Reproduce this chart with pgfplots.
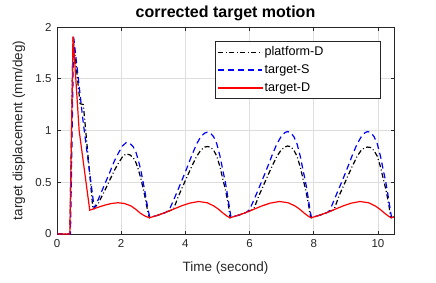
\documentclass[border=0pt]{standalone}
\usepackage{pgfplots}
\pgfplotsset{compat=1.18}
\usepackage{fontspec}
\setmainfont{Liberation Sans}
\definecolor{axgray}{gray}{0.15}
\definecolor{gridgray}{gray}{0.87}
\definecolor{mred}{rgb}{1,0,0}
\begin{document}
\begin{tikzpicture}[x=1pt,y=1pt]
\useasboundingbox (0,0) rectangle (436,282);
\begin{axis}[
  at={(57pt,48pt)}, anchor=south west,
  scale only axis, width=337pt, height=207pt,
  xmin=0, xmax=10.5, ymin=0, ymax=2,
  xtick={0,2,4,6,8,10}, ytick={0,0.5,1,1.5,2},
  yticklabels={0,0.5,1,1.5,2},
  grid=major, major grid style={gridgray, line width=0.6pt},
  axis line style={axgray, line width=0.6pt},
  tick style={axgray, line width=0.6pt},
  tick align=inside, major tick length=3.5pt,
  xtick pos=both, ytick pos=both,
  /pgf/number format/assume math mode=true,
  tick label style={font=\fontsize{11.5}{13}\selectfont, text=axgray},
  xticklabel style={yshift=-2pt},
  yticklabel style={xshift=-2pt},
  xlabel={Time (second)},
  ylabel={target displacement (mm/deg)},
  label style={font=\fontsize{13.5}{16}\selectfont, text=axgray},
  xlabel style={at={(axis description cs:0.5,0)}, anchor=center, yshift=-34pt},
  ylabel style={at={(axis description cs:0,0.5)}, anchor=center, yshift=38pt},
  every axis title shift=0pt,
  title={corrected target motion},
  title style={font=\fontsize{16}{18}\selectfont\bfseries, at={(axis description cs:0.5,1)}, anchor=center, yshift=13.5pt},
  legend style={at={(axis description cs:0.9614,0.9324)}, anchor=north east,
    font=\fontsize{12.6}{15}\selectfont, draw=axgray, line width=0.6pt,
    inner xsep=2pt, inner ysep=3.5pt, row sep=3.5pt},
  legend cell align=left,
]
\addplot[forget plot, color=black, line width=1.2pt, dash pattern=on 5pt off 2.5pt on 1pt off 2.5pt] coordinates {
(0,0) (0.40,0) (0.50,1.9) (0.72,1.26) (0.82,1.25) (1.12,0.24)
(1.28,0.29) (1.39,0.36) (1.52,0.44) (1.65,0.525) (1.78,0.61) (1.91,0.683) (2.04,0.745) (2.15,0.774) (2.27,0.765) (2.37,0.74) (2.46,0.69) (2.53,0.627) (2.61,0.54) (2.68,0.445) (2.74,0.36) (2.79,0.275) (2.85,0.19) (2.88,0.157)
(3.13,0.18) (3.38,0.208) (3.63,0.24)
(3.79,0.37) (4.00,0.517) (4.20,0.655) (4.35,0.75) (4.48,0.81) (4.60,0.84) (4.68,0.845) (4.78,0.84) (4.88,0.81) (4.98,0.75) (5.08,0.647) (5.17,0.526) (5.24,0.44) (5.30,0.345) (5.35,0.26) (5.38,0.19) (5.39,0.157)
(5.64,0.18) (5.89,0.208) (6.13,0.24)
(6.29,0.37) (6.50,0.517) (6.70,0.655) (6.85,0.75) (6.98,0.81) (7.10,0.84) (7.18,0.85) (7.28,0.845) (7.38,0.81) (7.48,0.75) (7.58,0.647) (7.67,0.526) (7.74,0.44) (7.80,0.345) (7.85,0.26) (7.88,0.19) (7.92,0.157)
(8.17,0.18) (8.42,0.208) (8.63,0.235)
(8.79,0.37) (9.00,0.517) (9.20,0.655) (9.35,0.75) (9.48,0.81) (9.60,0.835) (9.68,0.84) (9.78,0.835) (9.88,0.805) (9.98,0.75) (10.08,0.647) (10.17,0.526) (10.24,0.44) (10.30,0.345) (10.35,0.26) (10.38,0.19) (10.41,0.157) (10.5,0.165)
};
\addplot[forget plot, color=blue, line width=1.2pt, dash pattern=on 6pt off 4pt] coordinates {
(0,0) (0.42,0) (0.52,1.9) (0.82,1.07) (1.16,0.25)
(1.28,0.33) (1.39,0.41) (1.52,0.505) (1.65,0.60) (1.78,0.70) (1.91,0.78) (2.04,0.85) (2.16,0.885) (2.27,0.875) (2.37,0.845) (2.46,0.79) (2.53,0.716) (2.61,0.62) (2.68,0.507) (2.74,0.41) (2.79,0.314) (2.85,0.22) (2.89,0.16)
(3.13,0.18) (3.38,0.208) (3.50,0.235)
(3.65,0.34) (3.79,0.443) (4.00,0.60) (4.20,0.76) (4.35,0.87) (4.48,0.94) (4.60,0.975) (4.68,0.983) (4.78,0.975) (4.88,0.94) (4.98,0.87) (5.08,0.75) (5.17,0.61) (5.24,0.51) (5.30,0.40) (5.35,0.30) (5.40,0.20) (5.42,0.165)
(5.64,0.18) (5.89,0.208) (6.00,0.235)
(6.15,0.34) (6.29,0.443) (6.50,0.60) (6.70,0.76) (6.85,0.87) (6.98,0.94) (7.10,0.98) (7.18,0.99) (7.28,0.98) (7.38,0.94) (7.48,0.87) (7.58,0.75) (7.67,0.61) (7.74,0.51) (7.80,0.40) (7.85,0.30) (7.90,0.20) (7.93,0.16)
(8.17,0.18) (8.42,0.208) (8.50,0.228)
(8.65,0.34) (8.79,0.443) (9.00,0.60) (9.20,0.76) (9.35,0.87) (9.48,0.94) (9.60,0.98) (9.68,0.99) (9.78,0.98) (9.88,0.94) (9.98,0.87) (10.08,0.75) (10.17,0.61) (10.24,0.51) (10.30,0.40) (10.35,0.30) (10.40,0.20) (10.43,0.16) (10.5,0.165)
};
\addplot[forget plot, color=mred, solid, line width=1.2pt] coordinates {
(0,0) (0.40,0) (0.50,1.91) (0.69,1.0) (1.02,0.23) (1.25,0.255) (1.5,0.28) (1.7,0.295) (1.9,0.302) (2.1,0.295) (2.3,0.272) (2.45,0.24) (2.6,0.2) (2.75,0.172) (2.88,0.157)
(3.13,0.18) (3.38,0.208) (3.63,0.24) (3.88,0.272) (4.13,0.298) (4.41,0.314) (4.68,0.302) (4.88,0.272) (5.03,0.24) (5.18,0.2) (5.30,0.172) (5.39,0.157)
(5.64,0.18) (5.89,0.208) (6.14,0.24) (6.39,0.272) (6.64,0.298) (6.93,0.314) (7.20,0.302) (7.41,0.272) (7.56,0.24) (7.71,0.2) (7.83,0.172) (7.92,0.157)
(8.17,0.18) (8.42,0.208) (8.67,0.24) (8.92,0.272) (9.17,0.298) (9.44,0.314) (9.71,0.302) (9.91,0.272) (10.06,0.24) (10.21,0.2) (10.33,0.172) (10.41,0.157) (10.5,0.165)
};
\addlegendimage{legend image code/.code={\draw[black, line width=1.2pt, dash pattern=on 5pt off 2.5pt on 1pt off 2.5pt] (0pt,0pt) -- (44pt,0pt);}}
\addlegendentry{\makebox[112pt][l]{platform-D}}
\addlegendimage{legend image code/.code={\draw[blue, line width=1.2pt, dash pattern=on 6pt off 4pt] (0pt,0pt) -- (44pt,0pt);}}
\addlegendentry{target-S}
\addlegendimage{legend image code/.code={\fill[mred] (0pt,-0.7pt) rectangle (44pt,0.7pt);}}
\addlegendentry{target-D}
\end{axis}
\end{tikzpicture}
\end{document}
